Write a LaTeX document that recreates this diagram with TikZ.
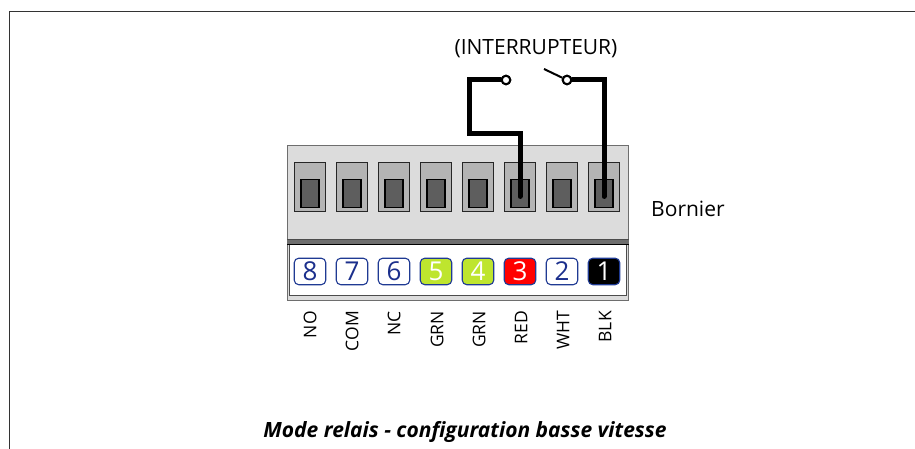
\documentclass[tikz,border=0pt]{standalone}
\usepackage{tikz}
\usepackage{xcolor}
\usepackage{fontspec}
\setmainfont{Open Sans}
\usetikzlibrary{chains,positioning}

\definecolor{blockgray}{HTML}{DCDCDC}
\definecolor{slotgray}{HTML}{B4B4B4}
\definecolor{pingray}{HTML}{5E5E5E}
\definecolor{edgegray}{HTML}{6E6E6E}
\definecolor{navyline}{HTML}{1F3A93}
\definecolor{navydigit}{HTML}{1B2F8C}
\definecolor{limegreen}{HTML}{BEE52E}

\tikzset{
	slotbox/.style={draw=black!85, fill=slotgray, line width=1pt, minimum width=31.5pt, minimum height=49pt, inner sep=0pt, outer sep=0pt, on chain},
	pinbox/.style={draw=black, fill=pingray, line width=1.2pt, minimum width=18pt, minimum height=28.5pt, inner sep=0pt, outer sep=0pt, anchor=south, yshift=4pt},
	badge/.style={draw=navyline, rounded corners=4.5pt, line width=1.1pt, minimum width=31.5pt, minimum height=26.5pt, inner sep=0pt, outer sep=0pt, font=\fontsize{26}{26}\selectfont, text=navydigit, below=46.5pt of #1.south, anchor=north},
	colorbadge/.style={badge=#1, text=white},
	pinlabel/.style={rotate=90, anchor=east, inner sep=0pt, font=\fontsize{17.5}{17.5}\selectfont},
	wire/.style={line width=5pt, line cap=round, line join=miter},
	terminal/.style={circle, draw=black, fill=white, line width=2pt, minimum size=8.5pt, inner sep=0pt},
}

\begin{document}
\begin{tikzpicture}[x=1pt, y=-1pt, node distance=10.5pt, start chain]
	\useasboundingbox (0,0) rectangle (915,449);

	% frame
	\draw[line width=1pt, black!80] (9.5,449) -- (9.5,11.5) -- (915,11.5);

	% block
	\draw[edgegray, line width=1pt, fill=blockgray] (287,146) rectangle (628.5,300);
	\draw[black!70, line width=1pt, fill=white] (289.5,244) rectangle (626,295);
	\fill[edgegray] (287,239) rectangle (628.5,244);
	\draw[black, line width=1pt] (287,244.5) -- (628.5,244.5);
	\draw[black!70, line width=0.8pt] (287,239) -- (628.5,239);

	% slots
	\node[slotbox] (slot8) at (310,187.2) {};
	\node[slotbox] (slot7) {};
	\node[slotbox] (slot6) {};
	\node[slotbox] (slot5) {};
	\node[slotbox] (slot4) {};
	\node[slotbox] (slot3) {};
	\node[slotbox] (slot2) {};
	\node[slotbox] (slot1) {};

	\node[pinbox] (pin8) at (slot8.south) {};
	\node[pinbox] (pin7) at (slot7.south) {};
	\node[pinbox] (pin6) at (slot6.south) {};
	\node[pinbox] (pin5) at (slot5.south) {};
	\node[pinbox] (pin4) at (slot4.south) {};
	\node[pinbox] (pin3) at (slot3.south) {};
	\node[pinbox] (pin2) at (slot2.south) {};
	\node[pinbox] (pin1) at (slot1.south) {};

	% numbers
	\node[badge=slot8] (num8) {8};
	\node[badge=slot7] (num7) {7};
	\node[badge=slot6] (num6) {6};
	\node[colorbadge=slot5, fill=limegreen] (num5) {5};
	\node[colorbadge=slot4, fill=limegreen] (num4) {4};
	\node[colorbadge=slot3, fill=red] (num3) {3};
	\node[badge=slot2] (num2) {2};
	\node[colorbadge=slot1, fill=black] (num1) {1};

	\node[pinlabel] (lab8) at (310,311) {NO};
	\node[pinlabel] (lab7) at (352,311) {COM};
	\node[pinlabel] (lab6) at (394,311) {NC};
	\node[pinlabel] (lab5) at (437,311) {GRN};
	\node[pinlabel] (lab4) at (479,311) {GRN};
	\node[pinlabel] (lab3) at (521,311) {RED};
	\node[pinlabel] (lab2) at (563,311) {WHT};
	\node[pinlabel] (lab1) at (605,311) {BLK};

	% switch
	\node[terminal] (termA) at (506,80) {};
	\node[terminal] (termB) at (567,80) {};
	\coordinate (bendA) at (469.5,134);
	\coordinate (armtip) at (544,69);

	\draw[wire] ([yshift=-3pt]pin3.center) |- (bendA) |- (termA);
	\draw[wire] ([yshift=-3pt]pin1.center) |- (termB);
	\draw[line width=2pt] (armtip) -- (termB);
	\node[terminal] at (termA) {};
	\node[terminal] at (termB) {};

	\node[font=\fontsize{21}{21}\selectfont] (switchlabel) at (536,49) {(INTERRUPTEUR)};
	\node[font=\fontsize{21}{21}\selectfont, anchor=west, inner sep=0pt] (blocklabel) at (651,209) {Bornier};
	\node[font=\fontsize{21}{21}\selectfont\bfseries\itshape] (caption) at (465,432) {Mode relais - configuration basse vitesse};
\end{tikzpicture}
\end{document}
